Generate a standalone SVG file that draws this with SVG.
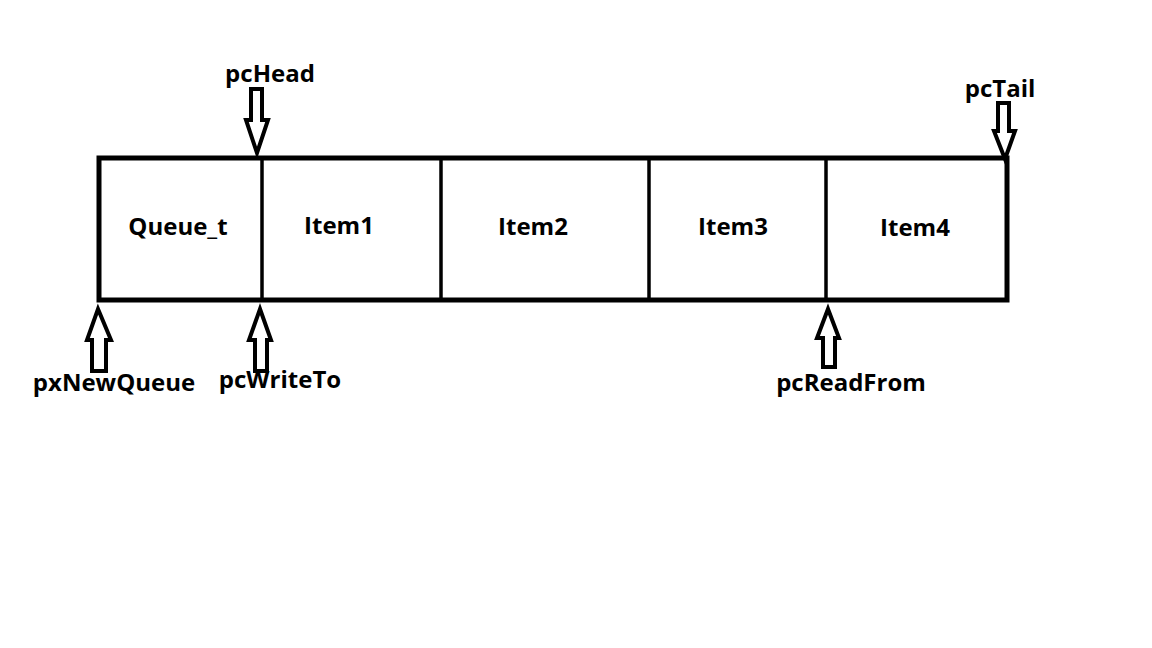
<svg xmlns="http://www.w3.org/2000/svg" width="1152" height="648" viewBox="0 0 1152 648">
<style>
.box{fill:#fff;stroke:#000;stroke-width:5}
.div{stroke:#000;stroke-width:3.5}
.arr{fill:#fff;stroke:#000;stroke-width:4;stroke-linejoin:miter}
text{font-family:"Open Sans","Noto Sans",sans-serif;font-weight:bold;font-size:24px;fill:#000;text-anchor:middle}
</style>
<rect width="1152" height="648" fill="#fff"/>
<g id="queue">
<rect class="box" x="99" y="158" width="908" height="142"/>
</g>
<g id="dividers">
<line class="div" x1="262" y1="158" x2="262" y2="300"/>
<line class="div" x1="441" y1="158" x2="441" y2="300"/>
<line class="div" x1="649" y1="158" x2="649" y2="300"/>
<line class="div" x1="826" y1="158" x2="826" y2="300"/>
</g>
<g id="cell-queue_t"><text x="178" y="235">Queue_t</text></g>
<g id="cell-item1"><text x="339" y="234">Item1</text></g>
<g id="cell-item2"><text x="533" y="235">Item2</text></g>
<g id="cell-item3"><text x="733" y="235">Item3</text></g>
<g id="cell-item4"><text x="915" y="236">Item4</text></g>
<g id="connectors">
<polygon class="arr" points="251,89 262,89 262,120 268,120 257,153 246,120 251,120"/>
<polygon class="arr" points="998,103 1009,103 1009,131 1015,131 1005,159 994,131 998,131"/>
<polygon class="arr" points="98,309 111,340 106,340 106,371 92,371 92,340 87,340"/>
<polygon class="arr" points="260,309 271,340 267,340 267,371 255,371 255,340 249,340"/>
<polygon class="arr" points="828,309 839,338 835,338 835,367 823,367 823,338 817,338"/>
</g>
<g id="label-pcHead"><text x="270" y="82">pcHead</text></g>
<g id="label-pcTail"><text x="1000" y="97">pcTail</text></g>
<g id="label-pxNewQueue"><text x="114" y="391">pxNewQueue</text></g>
<g id="label-pcWriteTo"><text x="280" y="388">pcWriteTo</text></g>
<g id="label-pcReadFrom"><text x="851" y="391">pcReadFrom</text></g>
</svg>
